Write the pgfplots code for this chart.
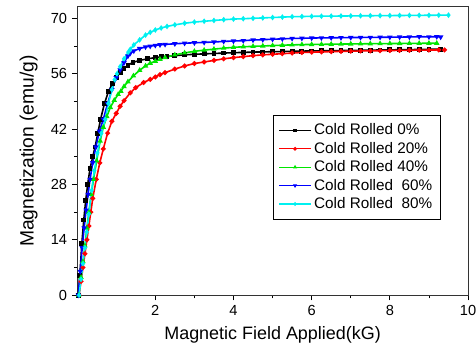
\documentclass[border=0pt]{standalone}
\usepackage{fontspec}
\setmainfont{Liberation Sans}
\usepackage{pgfplots}
\pgfplotsset{compat=1.18}
\definecolor{cgreen}{RGB}{0,230,0}
\definecolor{ccyan}{RGB}{0,240,240}
\begin{document}
\begin{tikzpicture}
\begin{axis}[name=ax,
  scale only axis, width=294pt, height=217pt,
  xmin=0, xmax=10, ymin=0, ymax=73,
  xtick={2,4,6,8,10}, ytick={0,14,28,42,56,70},
  minor x tick num=1, minor y tick num=1,
  tick align=outside, xtick pos=left, ytick pos=left,
  major tick length=4pt, minor tick length=2.5pt,
  tick style={black, line width=0.6pt},
  axis line style={line width=0.6pt, black!80},
  ticklabel style={font=\fontsize{11}{13}\selectfont},
  /pgf/number format/assume math mode=true,
  xlabel={Magnetic Field Applied(kG)}, ylabel={Magnetization (emu/g)},
  xlabel style={font=\fontsize{13.5}{15}\selectfont, yshift=-1pt},
  ylabel style={font=\fontsize{14.5}{16}\selectfont, yshift=3pt},
  every axis plot/.append style={line width=1.2pt, mark size=1.2pt},
  legend style={at={(0.93,0.625)}, anchor=north east, draw=black, line width=0.6pt,
    font=\fontsize{11.5}{13}\selectfont, row sep=0pt, inner xsep=4pt, inner ysep=4.5pt},
  legend cell align=left,
  legend image code/.code={\draw[#1, line width=0.8pt, mark size=1pt, mark repeat=2, mark phase=2] plot coordinates {(0cm,0cm) (0.42cm,0cm) (0.84cm,0cm)};},
]
\addplot[black, mark=square*] coordinates {
(0.03,0)(0.07,5)(0.12,13)(0.17,19)(0.22,24)(0.27,28)(0.33,32)(0.4,35)(0.46,37.5)(0.53,41)(0.6,44.5)(0.7,48.5)(0.8,51.5)(0.9,53.5)(1.0,55)(1.1,56.4)(1.2,57.3)(1.3,58.2)(1.43,58.9)(1.6,59.4)(1.8,59.8)(2.0,60.1)(2.15,60.3)(2.3,60.4)(2.5,60.6)(2.75,60.8)(3.0,60.95)(3.25,61.05)(3.5,61.15)(3.75,61.25)(4.0,61.35)(4.25,61.42)(4.5,61.5)(4.75,61.55)(5.0,61.6)(5.25,61.65)(5.5,61.7)(5.75,61.75)(6.0,61.8)(6.25,61.83)(6.5,61.86)(6.75,61.9)(7.0,61.93)(7.25,61.96)(7.5,62)(7.75,62.03)(8,62.06)(8.25,62.1)(8.5,62.13)(8.75,62.16)(9,62.2)(9.3,62.25)};
\addlegendentry{Cold Rolled 0\%}
\addplot[red, mark=*] coordinates {
(0.05,0)(0.1,3.5)(0.15,7)(0.2,10.5)(0.25,14)(0.3,17.5)(0.35,21)(0.4,24.5)(0.49,29.3)(0.58,33.5)(0.67,37)(0.78,41)(0.89,44)(1.0,46)(1.1,47.8)(1.2,49.2)(1.36,51.2)(1.5,52.5)(1.7,53.8)(1.87,54.6)(2.0,55.2)(2.12,55.8)(2.25,56.3)(2.5,57.2)(2.75,58.0)(3.0,58.6)(3.25,59.0)(3.5,59.4)(3.75,59.8)(4.0,60.1)(4.25,60.35)(4.5,60.6)(4.75,60.8)(5.0,60.95)(5.25,61.1)(5.5,61.25)(5.75,61.4)(6.0,61.48)(6.25,61.55)(6.5,61.62)(6.75,61.68)(7.0,61.73)(7.25,61.78)(7.5,61.82)(7.75,61.86)(8.0,61.9)(8.25,61.93)(8.5,61.96)(8.75,62.0)(9.0,62.02)(9.25,62.05)(9.4,62.05)};
\addlegendentry{Cold Rolled 20\%}
\addplot[cgreen, mark=triangle*] coordinates {
(0.04,0)(0.1,4.5)(0.15,8.5)(0.2,12.5)(0.25,17)(0.3,21)(0.36,25.5)(0.42,29.3)(0.5,34)(0.59,39)(0.67,42.5)(0.76,45.2)(0.85,47.5)(0.95,49.3)(1.05,50.8)(1.12,51.6)(1.2,52.8)(1.3,54)(1.44,55.5)(1.6,56.9)(1.75,58.0)(1.87,58.7)(2.0,59.2)(2.12,59.7)(2.25,60.1)(2.5,60.8)(2.75,61.3)(3.0,61.7)(3.25,62.0)(3.5,62.25)(3.75,62.5)(4.0,62.7)(4.25,62.85)(4.5,62.95)(4.75,63.05)(5.0,63.15)(5.25,63.25)(5.5,63.32)(5.75,63.4)(6.0,63.43)(6.25,63.46)(6.5,63.5)(6.75,63.53)(7.0,63.56)(7.25,63.59)(7.5,63.62)(7.75,63.64)(8.0,63.66)(8.25,63.68)(8.5,63.7)(8.75,63.72)(9.0,63.74)(9.2,63.75)};
\addlegendentry{Cold Rolled 40\%}
\addplot[blue, mark=triangle*, mark options={rotate=180}] coordinates {
(0.03,0)(0.08,6)(0.13,12)(0.18,17)(0.23,21.5)(0.28,25.5)(0.33,29.3)(0.4,33.5)(0.48,37.5)(0.57,41.5)(0.67,44.5)(0.78,48.5)(0.89,52)(1.0,55)(1.1,57)(1.2,58.8)(1.3,60.5)(1.36,61.2)(1.45,61.8)(1.6,62.4)(1.75,62.8)(1.87,63)(2.0,63.2)(2.12,63.35)(2.25,63.45)(2.5,63.6)(2.75,63.75)(3.0,63.85)(3.25,63.95)(3.5,64.05)(3.75,64.2)(4.0,64.3)(4.25,64.4)(4.5,64.55)(4.75,64.65)(5.0,64.75)(5.25,64.85)(5.5,64.95)(5.75,65.0)(6.0,65.05)(6.25,65.1)(6.5,65.12)(6.75,65.15)(7.0,65.18)(7.25,65.2)(7.5,65.22)(7.75,65.25)(8.0,65.27)(8.25,65.3)(8.5,65.32)(8.75,65.4)(9.0,65.35)(9.2,65.4)(9.3,65.3)};
\addlegendentry{Cold Rolled\ \ 60\%}
\addplot[ccyan, mark=diamond*] coordinates {
(0.05,0)(0.1,4)(0.15,8)(0.2,12)(0.25,16)(0.3,20.5)(0.37,26.5)(0.44,31.5)(0.52,36)(0.62,41)(0.72,44.5)(0.8,48.5)(0.89,52)(0.96,54.5)(1.02,56)(1.1,57.8)(1.2,59.8)(1.31,61.5)(1.36,62.2)(1.45,63.3)(1.6,64.6)(1.75,65.8)(1.87,66.5)(2.0,67.1)(2.15,67.6)(2.3,68)(2.5,68.4)(2.75,68.8)(3.0,69.1)(3.25,69.3)(3.5,69.5)(3.75,69.7)(4.0,69.85)(4.25,69.95)(4.5,70.05)(4.75,70.15)(5.0,70.25)(5.25,70.35)(5.5,70.45)(5.75,70.5)(6.0,70.55)(6.25,70.58)(6.5,70.6)(6.75,70.63)(7.0,70.65)(7.25,70.68)(7.5,70.7)(7.75,70.72)(8.0,70.74)(8.25,70.76)(8.5,70.78)(8.75,70.8)(9.0,70.82)(9.25,70.84)(9.5,70.85)};
\addlegendentry{Cold Rolled\ \ 80\%}
\end{axis}
\pgfresetboundingbox
\path (ax.south west) ++(-58pt,-42pt) rectangle ([xshift=6pt,yshift=5pt]ax.north east);
\end{tikzpicture}
\end{document}
